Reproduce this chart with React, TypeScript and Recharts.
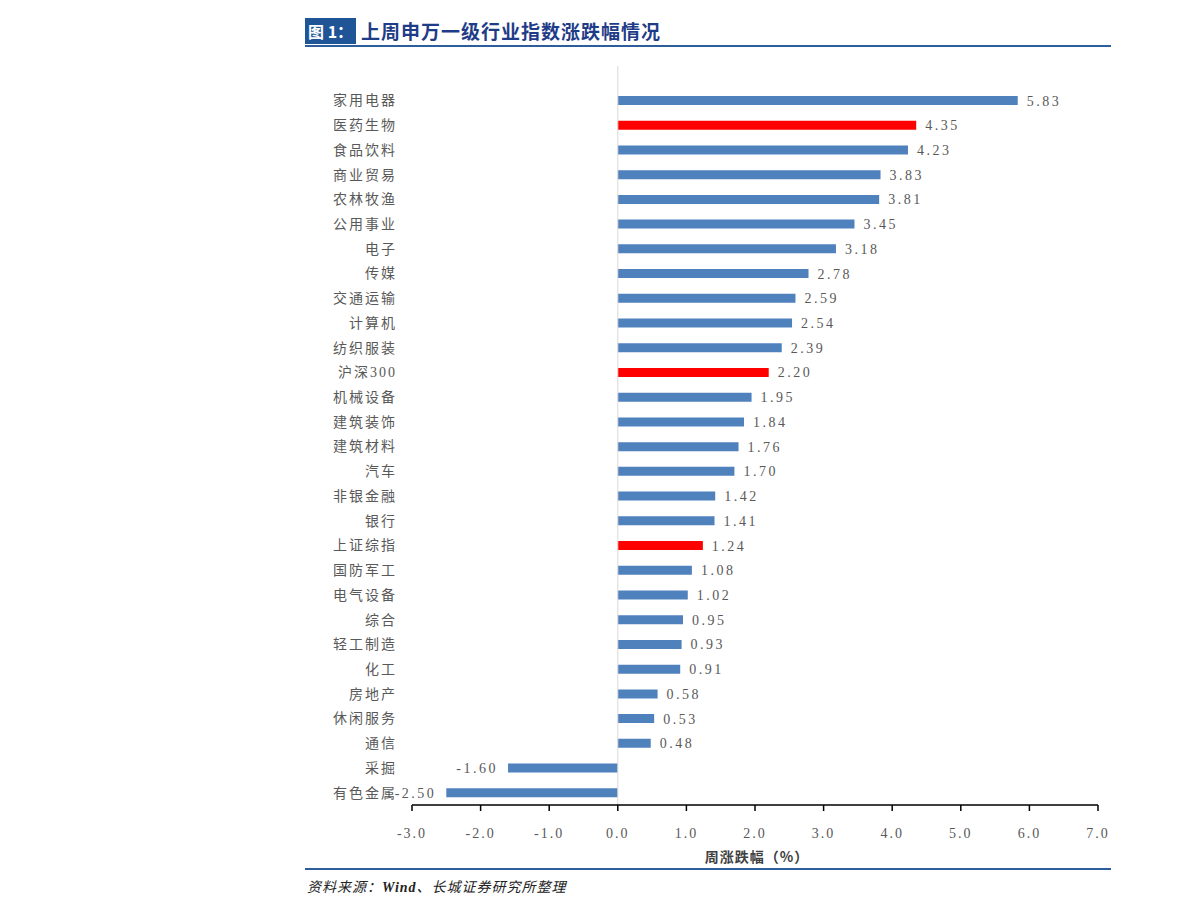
import { BarChart, Bar, XAxis, YAxis, Cell, LabelList, ReferenceLine } from 'recharts';

const industries = [
  '家用电器', '医药生物', '食品饮料', '商业贸易', '农林牧渔', '公用事业', '电子', '传媒',
  '交通运输', '计算机', '纺织服装', '沪深300', '机械设备', '建筑装饰', '建筑材料', '汽车',
  '非银金融', '银行', '上证综指', '国防军工', '电气设备', '综合', '轻工制造', '化工',
  '房地产', '休闲服务', '通信', '采掘', '有色金属',
];
const weeklyChange = [
  5.83, 4.35, 4.23, 3.83, 3.81, 3.45, 3.18, 2.78,
  2.59, 2.54, 2.39, 2.20, 1.95, 1.84, 1.76, 1.70,
  1.42, 1.41, 1.24, 1.08, 1.02, 0.95, 0.93, 0.91,
  0.58, 0.53, 0.48, -1.60, -2.50,
];
const highlighted = ['医药生物', '沪深300', '上证综指'];
const xTicks = [-3, -2, -1, 0, 1, 2, 3, 4, 5, 6, 7];

const data = industries.map((name, i) => ({ name, value: weeklyChange[i] }));

const BLUE = '#4f81bd';
const RED = '#ff0000';
const TEXT = '#595959';
const FONT = '"Liberation Serif", "Noto Sans CJK SC", serif';
const CJK = '"Noto Sans CJK SC", serif';

function ValueLabel(props: any) {
  const { x, y, width, height, value } = props;
  const neg = value < 0;
  const endX = neg ? Math.min(x, x + width) : Math.max(x, x + width);
  return (
    <text
      x={neg ? endX - 10 : endX + 9}
      y={y + height / 2}
      dy={5}
      textAnchor={neg ? 'end' : 'start'}
      fill={TEXT}
      fontSize={14}
      fontFamily={FONT}
      letterSpacing={2.5}
    >
      {Number(value).toFixed(2)}
    </text>
  );
}

export default function App() {
  return (
    <div style={{ position: 'absolute', left: 0, top: 0, width: 1191, height: 915, background: '#fff', fontFamily: FONT }}>
      <div style={{ position: 'absolute', left: 305, top: 18, width: 51, height: 26, background: '#1f5597', color: '#fff', fontSize: 16, fontWeight: 'bold', lineHeight: '26px', paddingLeft: 3, boxSizing: 'border-box', whiteSpace: 'nowrap', fontFamily: CJK }}>
        图 1：
      </div>
      <div style={{ position: 'absolute', left: 361, top: 17, height: 28, color: '#1f3c88', fontSize: 19, fontWeight: 'bold', lineHeight: '28px', letterSpacing: 1, whiteSpace: 'nowrap', fontFamily: CJK }}>
        上周申万一级行业指数涨跌幅情况
      </div>
      <div style={{ position: 'absolute', left: 305, top: 45, width: 806, height: 2, background: '#2e5d9c' }} />

      <div style={{ position: 'absolute', left: 0, top: 0 }}>
        <BarChart
          width={1191}
          height={915}
          data={data}
          layout="vertical"
          margin={{ top: 66, right: 93, bottom: 0, left: 0 }}
          barSize={9}
        >
          <XAxis
            type="number"
            domain={[-3, 7]}
            ticks={xTicks}
            tickFormatter={(v: number) => v.toFixed(1)}
            axisLine={{ stroke: '#000', strokeWidth: 1.5 }}
            tickLine={{ stroke: '#000', strokeWidth: 1.5 }}
            tickSize={6}
            tickMargin={17}
            height={110}
            tick={{ fill: TEXT, fontSize: 14, fontFamily: FONT, letterSpacing: 2 }}
            interval={0}
          />
          <YAxis
            type="category"
            dataKey="name"
            width={412}
            axisLine={false}
            tickLine={false}
            tickSize={0}
            tickMargin={15}
            padding={{ top: 22, bottom: 0 }}
            interval={0}
            tick={{ fill: TEXT, fontSize: 14, fontFamily: FONT, letterSpacing: 2 }}
          />
          <ReferenceLine x={0} stroke="#d9d9d9" strokeWidth={1} />
          <Bar dataKey="value" isAnimationActive={false}>
            {data.map((d) => (
              <Cell key={d.name} fill={highlighted.includes(d.name) ? RED : BLUE} />
            ))}
            <LabelList dataKey="value" content={ValueLabel} />
          </Bar>
        </BarChart>
      </div>

      <div style={{ position: 'absolute', left: 697, top: 846, width: 120, textAlign: 'center', color: '#404040', fontSize: 14, fontWeight: 'bold', letterSpacing: 1, whiteSpace: 'nowrap', fontFamily: CJK }}>
        周涨跌幅（%）
      </div>
      <div style={{ position: 'absolute', left: 305, top: 868, width: 806, height: 2, background: '#2e5d9c' }} />
      <div style={{ position: 'absolute', left: 307, top: 876, color: '#222', fontSize: 14, fontStyle: 'italic', letterSpacing: 1, whiteSpace: 'nowrap', fontFamily: CJK }}>
        资料来源：<span style={{ fontFamily: '"Liberation Serif", serif', fontWeight: 'bold' }}>Wind</span>、长城证券研究所整理
      </div>
    </div>
  );
}
